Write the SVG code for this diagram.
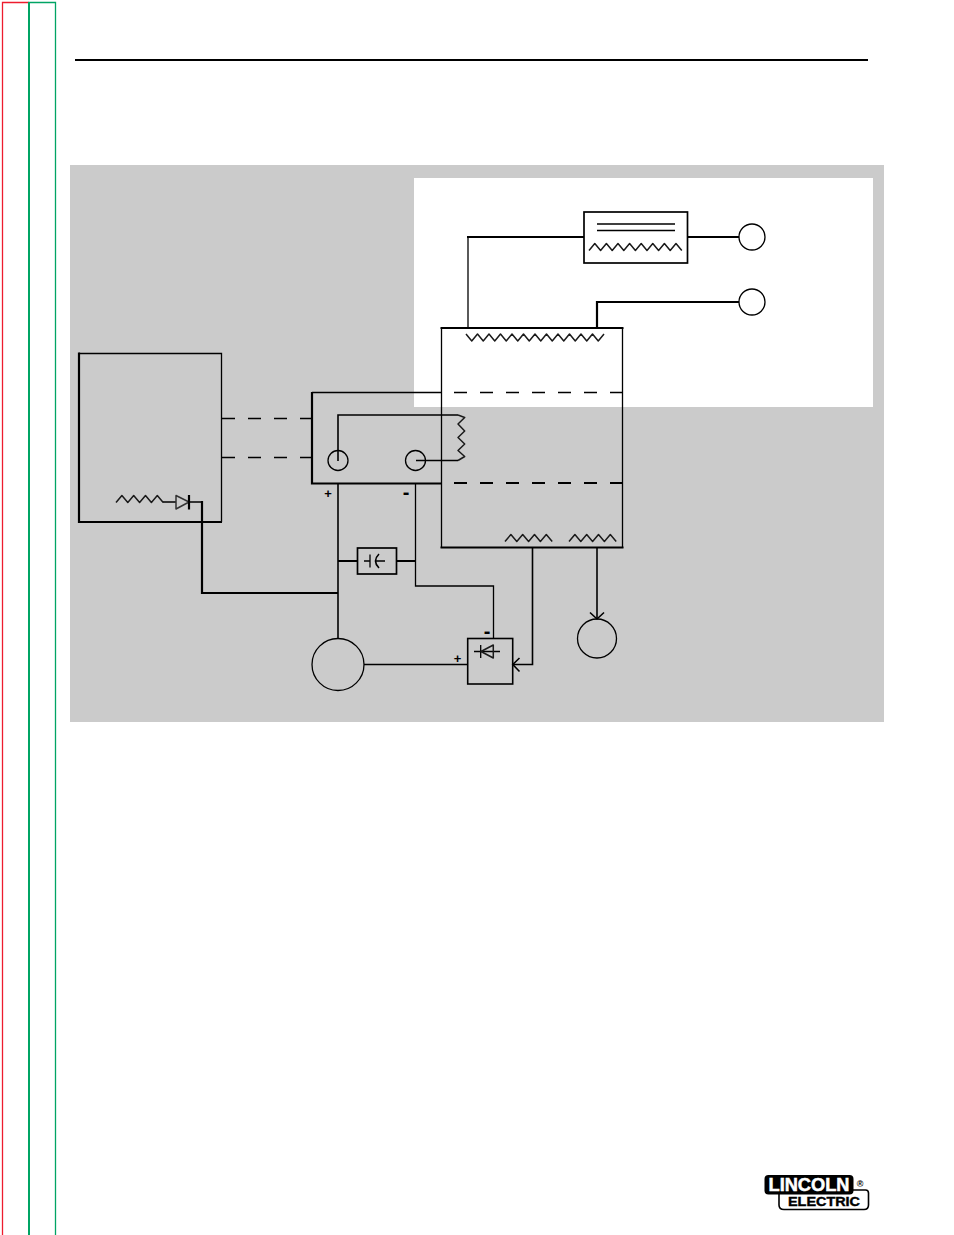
<svg xmlns="http://www.w3.org/2000/svg" width="954" height="1235" viewBox="0 0 954 1235">
<style>
.w{fill:none;stroke:#000;stroke-width:1.3}
.m{fill:none;stroke:#000;stroke-width:1.6}
.t{fill:none;stroke:#000;stroke-width:2.2}
.n{fill:none;stroke:#1a1a1a;stroke-width:1.5;stroke-linejoin:round}
.d{stroke-dasharray:13 13}
.s{font-family:"Liberation Sans",Arial,sans-serif;font-weight:bold;font-size:13px;text-anchor:middle;fill:#000}
.h{font-family:"Liberation Sans",Arial,sans-serif;font-weight:bold;font-size:20px;text-anchor:middle;fill:#000}
</style>
<rect width="954" height="1235" fill="#fff"/>
<g id="margin" fill="none">
<path d="M2.5 1235V2.5H29" stroke="#ed1c2e" stroke-width="1.3"/>
<path d="M29 1235V2.5H55.5V1235" stroke="#00a464" stroke-width="1.3"/>
<path d="M29 2V1235" stroke="#00a464" stroke-width="2"/>
</g>
<path id="rule" d="M75 60H868" stroke="#000" stroke-width="2.2"/>
<rect id="background" x="70" y="165" width="814" height="557" fill="#cbcbcb"/>
<rect id="panel" x="414" y="178" width="459" height="229" fill="#fff"/>

<g id="connectors">
<path class="w" d="M468 328V237"/><path class="t" d="M467 237H584M687.500 237H739"/>
<path class="t" d="M597 328V302H739"/>
<path class="w d" d="M222 418.500H312M222 457.500H312"/>
<path class="m" d="M338 461V415H458"/>
<path class="w" d="M458 460.500H416"/>
<path class="m" d="M338 483V638"/>
<path class="w" d="M415.500 483V586H493.500V638"/>
<path class="t" d="M338 561H358M396 561H415.500"/>
<path class="w" d="M364 664.500H467.500"/>
<path class="m" d="M532.500 548V664.500H513"/>
<path class="m" d="M519.500 658L512.800 664.500L519.500 671.500"/>
<path class="m" d="M597 548V619"/>
<path class="m" d="M590 612.500L597 619L604 612.500"/>
<path class="w" d="M163 502H176M189 502H202"/>
<path class="t" d="M202 501V593H338"/>
</g>

<g id="choke">
<path class="w" d="M597 224H675M597 230.500H675"/>
<rect x="584" y="212" width="103.500" height="51" class="t" style="stroke-width:1.700"/>
<path class="n" d="M589 250.500l5.800-7 5.800 7 5.800-7 5.800 7 5.800-7 5.800 7 5.800-7 5.800 7 5.800-7 5.800 7 5.800-7 5.800 7 5.800-7 5.800 7 5.800-7 5.800 7"/>
</g>
<g id="terminal-top"><circle cx="752" cy="237" r="13" class="w" style="fill:#fff"/></g>
<g id="terminal-bottom"><circle cx="752" cy="302" r="13" class="w" style="fill:#fff"/></g>

<g id="main-transformer">
<path class="w" d="M441.500 328V548M622.500 328V548"/>
<path class="t" d="M440.500 328H623.500"/>
<path class="t" d="M440.500 547.500H623.500" style="stroke-width:1.800"/>
<path class="n" d="M466 334l5.750 7 5.750-7 5.750 7 5.750-7 5.750 7 5.750-7 5.750 7 5.750-7 5.750 7 5.750-7 5.750 7 5.750-7 5.750 7 5.750-7 5.750 7 5.750-7 5.750 7 5.750-7 5.750 7 5.750-7 5.750 7 5.750-7 5.750 7 5.750-7"/>
<path class="w" d="M454 392.500H622.500" stroke-dasharray="13 13"/>
<path class="m" d="M454 483H622.500" stroke-dasharray="13 13" style="stroke-width:2"/>
<path class="n" d="M505 541.500l5.900-7 5.900 7 5.900-7 5.900 7 5.900-7 5.900 7 5.900-7 5.900 7"/>
<path class="n" d="M569 541.500l5.900-7 5.900 7 5.900-7 5.900 7 5.900-7 5.900 7 5.900-7 5.900 7"/>
</g>

<g id="generator-box">
<path class="w" d="M312 392.500H441.500"/>
<path class="t" d="M312 392V483.500H441.500"/>
<circle cx="338" cy="460.500" r="10" class="w"/>
<circle cx="415.500" cy="460.500" r="10" class="w"/>
<path class="n" d="M458 415l6.700 2.500-6.700 6.500 6.700 7-6.700 6.500 6.700 6.500-6.700 6.500 6.700 6-6.700 4"/>
<text x="328" y="497.500" class="s">+</text>
<text x="406" y="499" class="h">-</text>
</g>

<g id="exciter-box">
<path class="w" d="M79 353.500H221.500V522"/>
<path class="t" d="M79 352.500V522H222"/>
<path class="n" d="M116 502.500l5.900-7 5.900 7 5.900-7 5.900 7 5.900-7 5.900 7 5.900-7 5.900 7"/>
<path class="n" d="M176 495.500V509L189 502Z" style="stroke:#333"/>
<path class="t" d="M189 495V509.500"/>
</g>

<g id="capacitor">
<rect x="357.500" y="548" width="39" height="26" class="t" style="stroke-width:1.700"/>
<path class="w" d="M364 561H370M370 554.500V567.500M376 561H385"/>
<path class="m" d="M379 554Q372 561 379 568"/>
</g>

<g id="rectifier">
<rect x="467.700" y="638.500" width="45" height="45.500" class="m"/>
<path class="w" d="M474 651.500H500M480.700 645V658"/>
<path class="n" d="M481 651.500L493.300 645V658Z"/>
<text x="487" y="638" class="h">-</text>
<text x="457.500" y="662.500" class="s">+</text>
</g>

<g id="motor"><circle cx="338" cy="664.500" r="26" class="w"/></g>
<g id="output"><circle cx="597" cy="638.500" r="19.500" class="w"/></g>

<g id="logo">
<path d="M779 1194V1205Q779 1209.500 784 1209.500H864Q868.500 1209.500 868.500 1205V1193Q868.500 1190 865.500 1190H853" fill="#fff" stroke="#000" stroke-width="1.600"/>
<rect x="764.500" y="1175" width="89" height="19.500" rx="4" fill="#000"/>
<text x="809" y="1191" text-anchor="middle" textLength="81" lengthAdjust="spacingAndGlyphs" style="font-family:'Liberation Sans',Arial,sans-serif;font-weight:bold;font-size:17.500px;fill:#fff;stroke:#fff;stroke-width:.5">LINCOLN</text>
<text x="824" y="1205.500" text-anchor="middle" textLength="72" lengthAdjust="spacingAndGlyphs" style="font-family:'Liberation Sans',Arial,sans-serif;font-weight:bold;font-size:13px;fill:#000;stroke:#000;stroke-width:.4">ELECTRIC</text>
<text x="860" y="1187" text-anchor="middle" style="font-family:'Liberation Sans',Arial,sans-serif;font-weight:bold;font-size:9px;fill:#000">®</text>
</g>
</svg>
